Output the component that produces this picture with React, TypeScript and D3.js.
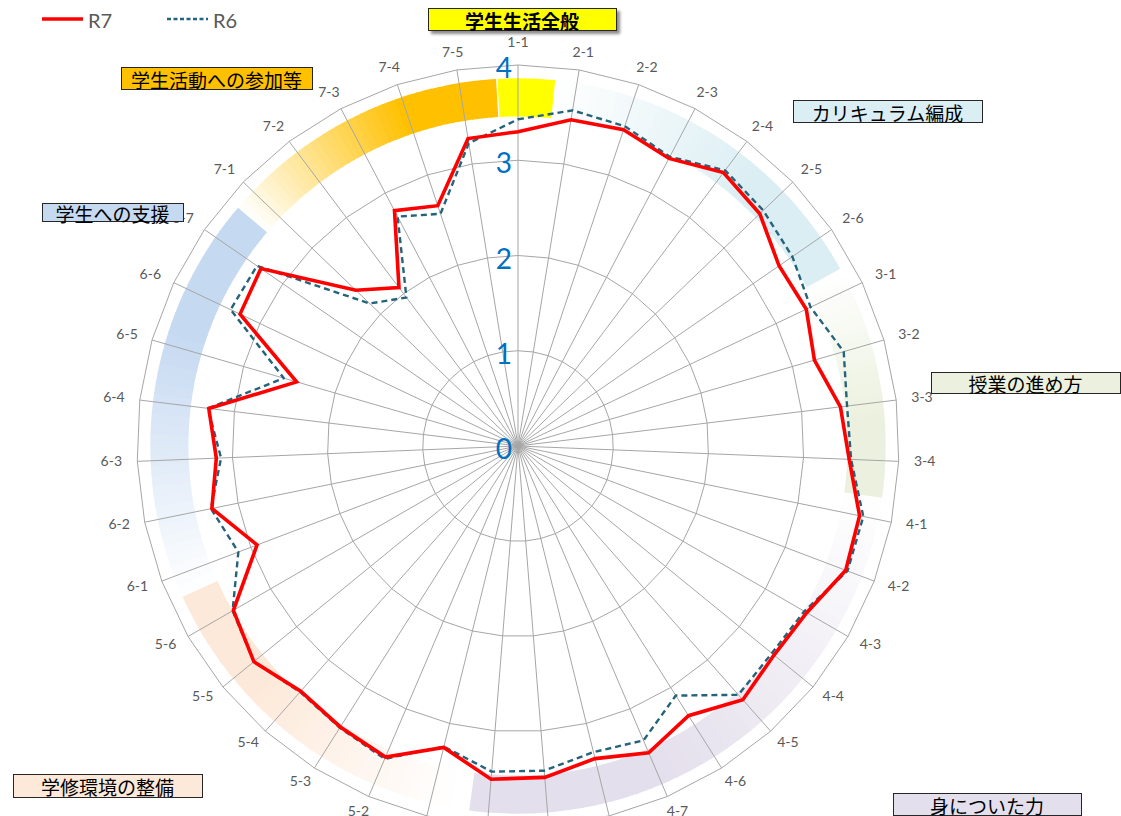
import React, { useRef, useEffect } from 'react';
import * as d3 from 'd3';

// 39 axes, grouped by the number before the dash
const categories = [
  '1-1',
  '2-1', '2-2', '2-3', '2-4', '2-5', '2-6',
  '3-1', '3-2', '3-3', '3-4',
  '4-1', '4-2', '4-3', '4-4', '4-5', '4-6', '4-7', '4-8', '4-9', '4-10',
  '5-1', '5-2', '5-3', '5-4', '5-5', '5-6',
  '6-1', '6-2', '6-3', '6-4', '6-5', '6-6', '6-7',
  '7-1', '7-2', '7-3', '7-4', '7-5',
];

const r7Values = [
  3.30,
  3.47, 3.50, 3.41, 3.59, 3.52, 3.33,
  3.35, 3.24, 3.41, 3.48,
  3.66, 3.68, 3.50, 3.47, 3.56, 3.35, 3.50, 3.38, 3.49, 3.51,
  3.26, 3.55, 3.49, 3.44, 3.58, 3.45,
  2.93, 3.28, 3.17, 3.27, 2.42, 3.23, 3.28,
  2.36, 2.08, 2.79, 2.66, 3.27,
];

const r6Values = [
  3.43,
  3.57, 3.54, 3.43, 3.62, 3.57, 3.50,
  3.40, 3.56, 3.48, 3.50,
  3.70, 3.70, 3.47, 3.44, 3.49, 3.10, 3.36, 3.31, 3.42, 3.43,
  3.25, 3.57, 3.50, 3.45, 3.58, 3.46,
  3.14, 3.29, 3.12, 3.28, 2.56, 3.34, 3.33,
  2.16, 1.95, 2.72, 2.57, 3.22,
];

const ringTicks = [0, 1, 2, 3, 4];

const groupKeys = ['1', '2', '3', '4', '5', '6', '7'];
const groupNames = [
  '学生生活全般',
  'カリキュラム編成',
  '授業の進め方',
  '身についた力',
  '学修環境の整備',
  '学生への支援',
  '学生活動への参加等',
];

const seriesNames = ['R7', 'R6'];

const W = 1121;
const H = 816;
const cx = 518;
const cy = 446;
const R = 381;

const groupColors = ['#FFFF00', '#DAEEF3', '#EBF1DE', '#E4DFEC', '#FDE9D9', '#C5D9F1', '#FFC000'];
// title boxes: x, y, w, h
const groupBoxes = [
  [428, 8, 188, 22],
  [793, 100, 189, 22],
  [931, 372, 189, 21],
  [893, 793, 188, 22],
  [13, 774, 189, 23],
  [42, 203, 141, 18],
  [121, 67, 191, 22],
];

const jpFont = '"Noto Sans CJK JP", "Noto Sans", sans-serif';
const latinFont = 'Lato, "Noto Sans", "DejaVu Sans", sans-serif';

export default function App() {
  const ref = useRef<SVGSVGElement>(null);

  useEffect(() => {
    const svg = d3.select(ref.current);
    svg.selectAll('*').remove();

    const N = categories.length;
    const deg = Math.PI / 180;
    const rScale = d3.scaleLinear().domain([0, 4]).range([0, R]);
    const aScale = d3.scaleLinear().domain([0, N]).range([0, 2 * Math.PI]);

    const defs = svg.append('defs');
    defs.append('filter')
      .attr('id', 'shadow')
      .attr('x', '-10%').attr('y', '-30%').attr('width', '120%').attr('height', '180%')
      .append('feDropShadow')
      .attr('dx', 3).attr('dy', 3).attr('stdDeviation', 1.5)
      .attr('flood-color', '#000').attr('flood-opacity', 0.45);

    const g = svg.append('g').attr('transform', `translate(${cx},${cy})`);

    // coloured bands behind the grid, fading in along each group
    const arc = d3.arc();
    groupKeys.forEach((k, gi) => {
      const idx = categories
        .map((c, i) => ({ c, i }))
        .filter(d => d.c.split('-')[0] === k)
        .map(d => d.i);
      const a0 = aScale(idx[0]) - 3.2 * deg;
      const a1 = aScale(idx[idx.length - 1]) + (k === '4' ? 3 : 5.8) * deg;
      const steps = k === '1' ? 1 : 40;
      const step = (a1 - a0) / steps;
      for (let s = 0; s < steps; s++) {
        const t = steps === 1 ? 1 : s / (steps - 1);
        const col = d3.interpolateRgb('#ffffff', groupColors[gi])(Math.min(1, 0.03 + 1.45 * t));
        g.append('path')
          .attr('d', arc({
            innerRadius: rScale(3.46),
            outerRadius: rScale(3.86),
            startAngle: a0 + s * step,
            endAngle: a0 + (s + 1) * step + (s < steps - 1 ? 0.004 : 0),
          }) as string)
          .attr('fill', col);
      }
    });

    // grid polygons
    const gridLine = d3.lineRadial<string>()
      .curve(d3.curveLinearClosed)
      .angle((d, i) => aScale(i));
    ringTicks.filter(t => t > 0).forEach(t => {
      g.append('path')
        .attr('d', gridLine.radius(() => rScale(t))(categories) as string)
        .attr('fill', 'none')
        .attr('stroke', '#A6A6A6')
        .attr('stroke-width', 1);
    });

    g.selectAll('.spoke')
      .data(categories)
      .enter().append('line')
      .attr('class', 'spoke')
      .attr('x1', 0).attr('y1', 0)
      .attr('x2', (d, i) => rScale(4) * Math.sin(aScale(i)))
      .attr('y2', (d, i) => -rScale(4) * Math.cos(aScale(i)))
      .attr('stroke', '#A6A6A6')
      .attr('stroke-width', 1);

    // axis labels
    const labelR = rScale(4) + 19;
    g.selectAll('.axisLabel')
      .data(categories)
      .enter().append('text')
      .attr('class', 'axisLabel')
      .attr('x', (d, i) => (labelR + 7) * Math.sin(aScale(i)))
      .attr('y', (d, i) => {
        const c = Math.cos(aScale(i));
        return -labelR * c - 2 + 2 * c - (c > 0.999 ? 5 : 0);
      })
      .attr('text-anchor', 'middle')
      .attr('dominant-baseline', 'central')
      .style('font-family', latinFont)
      .style('font-size', '14px')
      .attr('fill', '#595959')
      .text(d => d);

    // series
    const radar = d3.lineRadial<number>()
      .curve(d3.curveLinearClosed)
      .radius(d => rScale(d))
      .angle((d, i) => aScale(i));

    g.append('path')
      .attr('d', radar(r6Values) as string)
      .attr('fill', 'none')
      .attr('stroke', '#24637A')
      .attr('stroke-width', 2.4)
      .attr('stroke-dasharray', '6,4')
      .attr('stroke-linejoin', 'round');

    g.append('path')
      .attr('d', radar(r7Values) as string)
      .attr('fill', 'none')
      .attr('stroke', '#FF0000')
      .attr('stroke-width', 3.6)
      .attr('stroke-linejoin', 'miter');

    // ring value labels
    g.selectAll('.ringLabel')
      .data(ringTicks)
      .enter().append('text')
      .attr('class', 'ringLabel')
      .attr('x', -6)
      .attr('y', d => -rScale(d) + 2)
      .attr('text-anchor', 'end')
      .attr('dominant-baseline', 'central')
      .style('font-family', latinFont)
      .style('font-size', '28px')
      .attr('fill', '#0070C0')
      .text(d => d);

    // legend
    const legend = svg.append('g');
    const legendX = [42, 167];
    seriesNames.forEach((name, i) => {
      legend.append('line')
        .attr('x1', legendX[i]).attr('x2', legendX[i] + 41)
        .attr('y1', 19).attr('y2', 19)
        .attr('stroke', i === 0 ? '#FF0000' : '#24637A')
        .attr('stroke-width', i === 0 ? 3.5 : 2.4)
        .attr('stroke-dasharray', i === 0 ? null : '4,2.5');
      legend.append('text')
        .attr('x', legendX[i] + 46)
        .attr('y', 20)
        .attr('dominant-baseline', 'central')
        .style('font-family', latinFont)
        .style('font-size', '20px')
        .attr('fill', '#595959')
        .text(name);
    });

    // group title boxes
    groupNames.forEach((name, i) => {
      const [x, y, w, h] = groupBoxes[i];
      const box = svg.append('g');
      box.append('rect')
        .attr('x', x + 0.5).attr('y', y + 0.5)
        .attr('width', w).attr('height', h)
        .attr('fill', groupColors[i])
        .attr('stroke', '#262626')
        .attr('stroke-width', 1)
        .attr('filter', i === 0 ? 'url(#shadow)' : null);
      box.append('text')
        .attr('x', x + w / 2)
        .attr('y', y + h / 2 + 1)
        .attr('text-anchor', 'middle')
        .attr('dominant-baseline', 'central')
        .style('font-family', jpFont)
        .style('font-size', '19px')
        .style('font-weight', i === 0 ? 'bold' : 'normal')
        .attr('fill', '#000')
        .text(name);
    });
  }, []);

  return (
    <svg
      ref={ref}
      width={W}
      height={H}
      style={{ position: 'absolute', left: 0, top: 0, background: '#fff' }}
    />
  );
}
